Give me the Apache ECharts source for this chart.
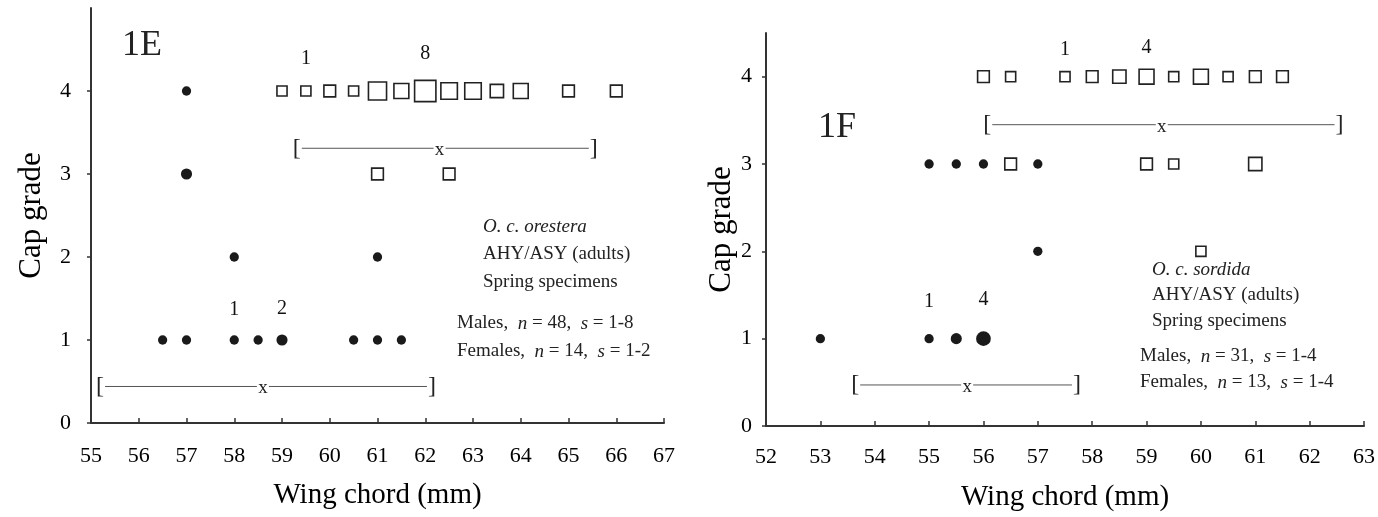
<!DOCTYPE html>
<html>
<head>
<meta charset="utf-8">
<script src="https://cdn.jsdelivr.net/npm/echarts@6/dist/echarts.min.js"></script>
<style>
  html, body { margin: 0; padding: 0; background: #fff; }
  #chart-container { width: 1378px; height: 517px; }
</style>
</head>
<body>
<div id="chart-container"></div>
<script>
var dom = document.getElementById("chart-container");
var myChart = echarts.init(dom, null, { renderer: "canvas" });

var serif = '"Liberation Serif", "DejaVu Serif", serif';

// ---- 1E : O. c. orestera ----
// [wing chord, cap grade, number of specimens]
var eMales = [
  [59, 4, 1], [59.5, 4, 1], [60, 4, 2], [60.5, 4, 1], [61, 4, 6], [61.5, 4, 4],
  [62, 4, 8], [62.5, 4, 5], [63, 4, 5], [63.5, 4, 3], [64, 4, 4], [65, 4, 2], [66, 4, 2],
  [61, 3, 2], [62.5, 3, 2]
];
var eFemales = [
  [57, 4, 1], [57, 3, 2], [58, 2, 1], [61, 2, 1],
  [56.5, 1, 1], [57, 1, 1], [58, 1, 1], [58.5, 1, 1], [59, 1, 2],
  [60.5, 1, 1], [61, 1, 1], [61.5, 1, 1]
];
// count labels written above some marks
var eMaleLabels = [[59.5, 4, "1"], [62, 4, "8"]];
var eFemaleLabels = [[58, 1, "1"], [59, 1, "2"]];
// [low, mean, high, grade row]
var eRanges = [[59.31, 62.3, 65.53, 3.31], [55.19, 58.6, 62.14, 0.44]];

// ---- 1F : O. c. sordida ----
var fMales = [
  [56, 4, 2], [56.5, 4, 1], [57.5, 4, 1], [58, 4, 2], [58.5, 4, 3], [59, 4, 4],
  [59.5, 4, 1], [60, 4, 4], [60.5, 4, 1], [61, 4, 2], [61.5, 4, 2],
  [56.5, 3, 2], [59, 3, 2], [59.5, 3, 1], [61, 3, 3],
  [60, 2, 1]
];
var fFemales = [
  [55, 3, 1], [55.5, 3, 1], [56, 3, 1], [57, 3, 1],
  [57, 2, 1],
  [53, 1, 1], [55, 1, 1], [55.5, 1, 2], [56, 1, 4]
];
var fMaleLabels = [[57.5, 4, "1"], [59, 4, "4"]];
var fFemaleLabels = [[55, 1, "1"], [56, 1, "4"]];
var fRanges = [[56.07, 59.28, 62.55, 3.45], [53.64, 55.7, 57.72, 0.47]];

var gradeTicks = [0, 1, 2, 3, 4];

function squareSize(d) { return 8.5 + 1.6 * d[2]; }
function dotSize(d) { return 7.5 + 1.8 * d[2]; }

function xAxisFor(grid, min, max, labelMargin, nameGap) {
  return {
    type: "value", gridIndex: grid, min: min, max: max, interval: 1,
    axisLine: { lineStyle: { color: "#333", width: 2 } },
    axisTick: { inside: true, length: 5, lineStyle: { color: "#333", width: 1.5 } },
    axisLabel: { fontFamily: serif, fontSize: 22, color: "#000", margin: labelMargin },
    splitLine: { show: false },
    name: "Wing chord (mm)", nameLocation: "middle", nameGap: nameGap,
    nameTextStyle: { fontFamily: serif, fontSize: 29, color: "#000" }
  };
}

function yAxisFor(grid, max, labelMargin, nameGap) {
  return {
    type: "value", gridIndex: grid, min: 0, max: max, interval: 1,
    axisLine: { show: true, lineStyle: { color: "#333", width: 2 } },
    axisTick: { show: true, length: 4, customValues: gradeTicks, lineStyle: { color: "#333", width: 1.5 } },
    axisLabel: { fontFamily: serif, fontSize: 22, color: "#000", margin: labelMargin, customValues: gradeTicks },
    splitLine: { show: false },
    name: "Cap grade", nameLocation: "middle", nameGap: nameGap,
    nameTextStyle: { fontFamily: serif, fontSize: 31, color: "#000" }
  };
}

// put the count text on the marks listed in labels
function withLabels(data, labels, dist) {
  return data.map(function (d) {
    var hit = labels.filter(function (l) { return l[0] === d[0] && l[1] === d[1]; })[0];
    if (!hit) return d;
    return {
      value: d,
      label: {
        show: true, position: "top", distance: dist, formatter: hit[2],
        fontFamily: serif, fontSize: 20, color: "#111"
      }
    };
  });
}

function squares(data, labels, axis, dist) {
  return {
    type: "scatter", xAxisIndex: axis, yAxisIndex: axis, data: withLabels(data, labels, dist),
    symbol: "rect", symbolSize: squareSize,
    itemStyle: { color: "#fff", borderColor: "#222", borderWidth: 1.6, opacity: 1 },
    z: 3
  };
}

function dots(data, labels, axis, dist) {
  return {
    type: "scatter", xAxisIndex: axis, yAxisIndex: axis, data: withLabels(data, labels, dist),
    symbol: "circle", symbolSize: dotSize,
    itemStyle: { color: "#1a1a1a", opacity: 1 },
    z: 3
  };
}

function ranges(data, axis) {
  return {
    type: "custom", xAxisIndex: axis, yAxisIndex: axis, data: data,
    encode: { x: [0, 1, 2], y: 3 },
    renderItem: function (params, api) {
      var y = api.value(3);
      var lo = api.coord([api.value(0), y]);
      var mid = api.coord([api.value(1), y]);
      var hi = api.coord([api.value(2), y]);
      var txt = function (t, p, size) {
        return { type: "text", style: { text: t, x: p[0], y: p[1], align: "center", verticalAlign: "middle",
          font: size + "px " + serif, fill: "#222" } };
      };
      return {
        type: "group",
        children: [
          txt("[", lo, 24), txt("]", hi, 24), txt("x", [mid[0], mid[1] + 2], 19),
          { type: "line", shape: { x1: lo[0] + 5, y1: lo[1], x2: mid[0] - 6, y2: mid[1] },
            style: { stroke: "#555", lineWidth: 1 } },
          { type: "line", shape: { x1: mid[0] + 6, y1: mid[1], x2: hi[0] - 5, y2: hi[1] },
            style: { stroke: "#555", lineWidth: 1 } }
        ]
      };
    }
  };
}

function noteBlock(x, y, taxon, males, females, indent, step, gap) {
  var rich = {
    it: { fontFamily: serif, fontStyle: "italic", fontSize: 19, color: "#222" }
  };
  var lines = [
    { t: "{it|" + taxon + "}", dx: indent, dy: 0 },
    { t: "AHY/ASY (adults)", dx: indent, dy: step },
    { t: "Spring specimens", dx: indent, dy: 2 * step },
    { t: males, dx: 0, dy: 2 * step + gap },
    { t: females, dx: 0, dy: 3 * step + gap }
  ];
  return lines.map(function (l) {
    return {
      type: "text", left: x + l.dx, top: y + l.dy,
      style: { text: l.t, rich: rich, font: "19px " + serif, fill: "#222" }
    };
  });
}

var option = {
  animation: false,
  backgroundColor: "#fff",
  grid: [
    { left: 91, top: 8, width: 573, height: 415 },
    { left: 766, top: 33, width: 598, height: 393 }
  ],
  xAxis: [xAxisFor(0, 55, 67, 22, 58), xAxisFor(1, 52, 63, 20, 57)],
  yAxis: [yAxisFor(0, 5, 20, 44), yAxisFor(1, 4.5, 14, 28)],
  graphic: [
    { type: "text", left: 122, top: 28, style: { text: "1E", font: "36px " + serif, fill: "#222" } },
    { type: "text", left: 818, top: 110, style: { text: "1F", font: "36px " + serif, fill: "#222" } }
  ]
    .concat(noteBlock(457, 217, "O. c. orestera",
      "Males,  {it|n} = 48,  {it|s} = 1-8", "Females,  {it|n} = 14,  {it|s} = 1-2", 26, 28, 41))
    .concat(noteBlock(1140, 260, "O. c. sordida",
      "Males,  {it|n} = 31,  {it|s} = 1-4", "Females,  {it|n} = 13,  {it|s} = 1-4", 12, 26, 35)),
  series: [
    squares(eMales, eMaleLabels, 0, 16), dots(eFemales, eFemaleLabels, 0, 16),
    ranges(eRanges, 0),
    squares(fMales, fMaleLabels, 1, 11), dots(fFemales, fFemaleLabels, 1, 22),
    ranges(fRanges, 1)
  ]
};

myChart.setOption(option);
window.addEventListener("resize", myChart.resize);
</script>
</body>
</html>
